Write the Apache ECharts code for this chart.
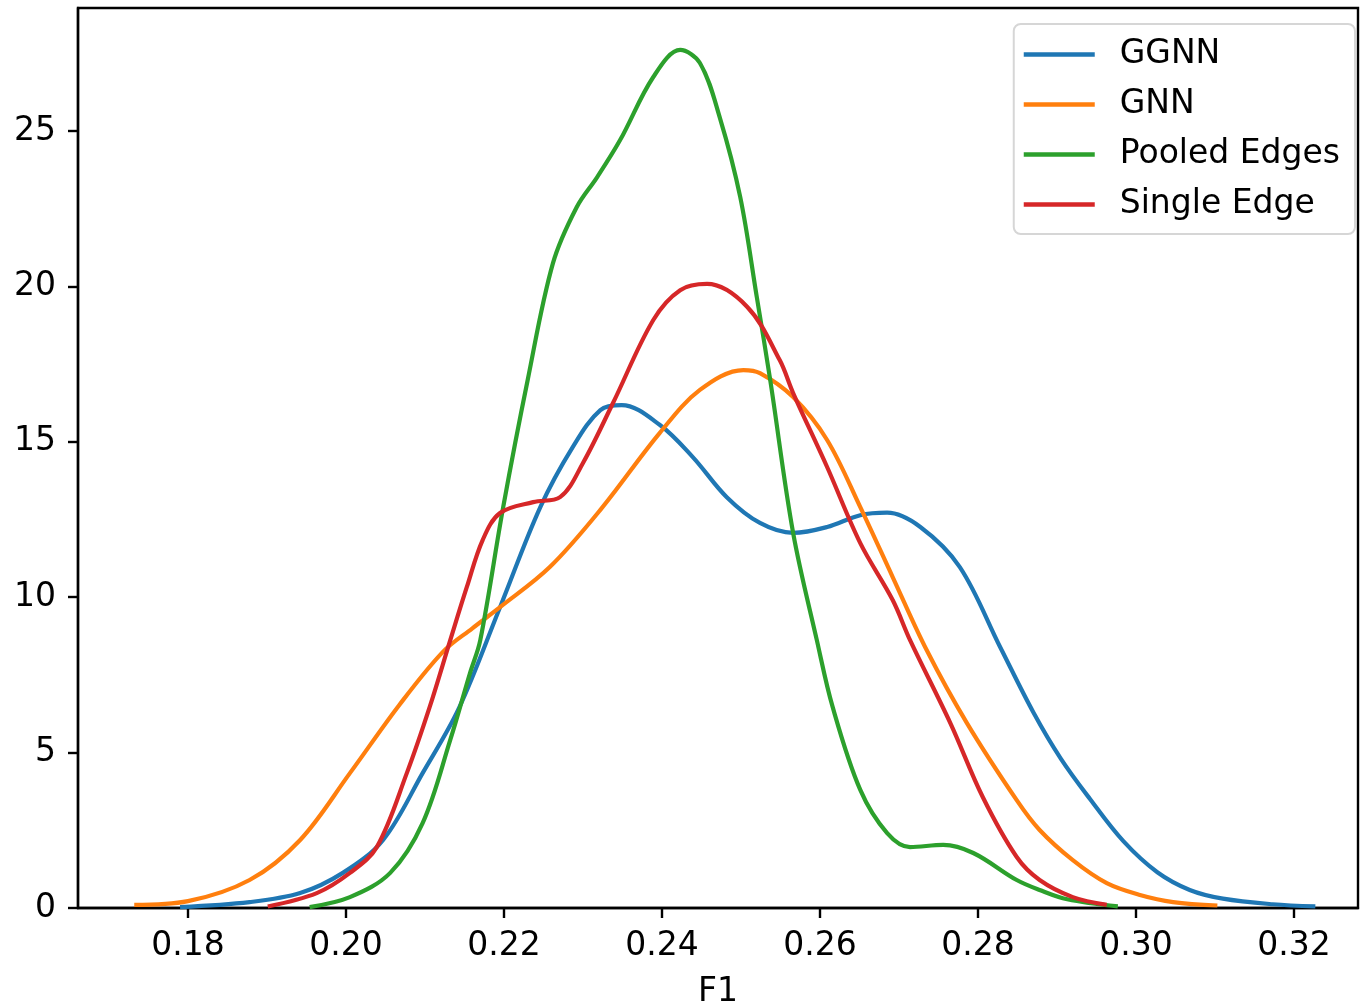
<!DOCTYPE html>
<html>
<head>
<meta charset="utf-8">
<script src="https://cdn.jsdelivr.net/npm/echarts@6/dist/echarts.min.js"></script>
<style>
  html, body { margin: 0; padding: 0; background: #fff; }
  #chart { width: 1360px; height: 1007px; }
</style>
</head>
<body>
<div id="chart"></div>
<script>
// KDE curves: [F1, density]
let ggnn = [
    [0.1790, 0.03], [0.1878, 0.19], [0.1942, 0.48], [0.1996, 1.13], [0.2047, 2.19],
    [0.2097, 4.34], [0.2143, 6.43], [0.2195, 9.68], [0.2246, 12.90], [0.2287, 14.83],
    [0.2322, 16.02], [0.2349, 16.18], [0.2397, 15.55], [0.2439, 14.51], [0.2482, 13.22],
    [0.2524, 12.39], [0.2566, 12.07], [0.2609, 12.26], [0.2651, 12.64], [0.2685, 12.72],
    [0.2727, 12.26], [0.2777, 10.97], [0.2828, 8.40], [0.2870, 6.30], [0.2905, 4.80],
    [0.2942, 3.50], [0.2984, 2.15], [0.3027, 1.15], [0.3068, 0.58], [0.3110, 0.30],
    [0.3173, 0.12], [0.3227, 0.05]
];
let gnn = [
    [0.1732, 0.10], [0.1800, 0.22], [0.1878, 0.90], [0.1942, 2.19], [0.2005, 4.34],
    [0.2068, 6.55], [0.2123, 8.25], [0.2160, 9.00], [0.2195, 9.68], [0.2258, 10.97],
    [0.2322, 12.81], [0.2397, 15.28], [0.2448, 16.67], [0.2503, 17.31], [0.2524, 17.21],
    [0.2566, 16.44], [0.2609, 15.06], [0.2651, 12.90], [0.2692, 10.65], [0.2735, 8.30],
    [0.2786, 5.95], [0.2849, 3.47], [0.2878, 2.51], [0.2920, 1.54], [0.2963, 0.80],
    [0.3005, 0.42], [0.3047, 0.19], [0.3103, 0.08]
];
let pooled = [
    [0.1954, 0.03], [0.2005, 0.35], [0.2056, 1.13], [0.2097, 2.73], [0.2132, 5.41],
    [0.2157, 7.56], [0.2170, 8.62], [0.2199, 12.90], [0.2230, 16.99], [0.2262, 20.75],
    [0.2292, 22.55], [0.2318, 23.52], [0.2347, 24.71], [0.2389, 26.74], [0.2423, 27.61],
    [0.2448, 27.19], [0.2473, 25.45], [0.2499, 22.88], [0.2520, 19.66], [0.2537, 16.99],
    [0.2566, 12.07], [0.2596, 8.62], [0.2616, 6.47], [0.2651, 3.80], [0.2685, 2.41],
    [0.2714, 1.96], [0.2756, 2.03], [0.2794, 1.77], [0.2849, 0.90], [0.2878, 0.58],
    [0.2913, 0.28], [0.2977, 0.05]
];
let single = [
    [0.1901, 0.05], [0.1963, 0.48], [0.2005, 1.13], [0.2039, 1.96], [0.2077, 4.34],
    [0.2106, 6.47], [0.2132, 8.62], [0.2153, 10.33], [0.2173, 11.84], [0.2195, 12.71],
    [0.2237, 13.06], [0.2271, 13.22], [0.2300, 14.32], [0.2338, 16.25], [0.2389, 18.92],
    [0.2423, 19.88], [0.2457, 20.08], [0.2508, 19.34], [0.2549, 17.63], [0.2566, 16.57],
    [0.2609, 14.19], [0.2651, 11.74], [0.2692, 9.91], [0.2714, 8.62], [0.2765, 5.95],
    [0.2806, 3.57], [0.2849, 1.64], [0.2878, 0.90], [0.2920, 0.35], [0.2963, 0.10]
];

let seriesNames = ['GGNN', 'GNN', 'Pooled Edges', 'Single Edge'];
let seriesColors = ['#1f77b4', '#ff7f0e', '#2ca02c', '#d62728'];
let xTicks = [0.18, 0.20, 0.22, 0.24, 0.26, 0.28, 0.30, 0.32];
let yTicks = [0, 5, 10, 15, 20, 25];

let font = 'DejaVu Sans';
let fontSize = 33;
let allData = [ggnn, gnn, pooled, single];

let series = [];
for(let i = 0; i < allData.length; i++){
    series.push({
        name: seriesNames[i],
        type: 'line',
        data: allData[i],
        smooth: 0.35,
        showSymbol: false,
        lineStyle: { color: seriesColors[i], width: 4.2 },
        itemStyle: { color: seriesColors[i] },
        z: 2 + i
    });
}

let chart = echarts.init(document.getElementById('chart'));
chart.setOption({
    animation: false,
    grid: {
        left: 78, right: 2, top: 8, bottom: 99,
        outerBoundsMode: 'none',
        show: true, borderColor: '#000', borderWidth: 2.4
    },
    legend: {
        orient: 'vertical',
        right: 5, top: 24,
        icon: 'rect',
        itemWidth: 71, itemHeight: 4.5,
        itemGap: 17,
        padding: [14, 15, 13, 10],
        backgroundColor: '#fff',
        borderColor: '#d6d6d6', borderWidth: 2, borderRadius: 7,
        textStyle: {
            fontFamily: font, fontSize: fontSize, color: '#000',
            lineHeight: 33, padding: [0, 0, 0, 20]
        },
        data: seriesNames
    },
    xAxis: {
        type: 'value',
        min: 0.16608, max: 0.3281,
        name: 'F1', nameLocation: 'middle', nameGap: 68,
        nameTextStyle: { fontFamily: font, fontSize: fontSize, color: '#000' },
        axisLine: { lineStyle: { color: '#000', width: 2.4 } },
        axisTick: { customValues: xTicks, length: 10, lineStyle: { color: '#000', width: 2.4 } },
        axisLabel: {
            customValues: xTicks, margin: 22,
            fontFamily: font, fontSize: fontSize, color: '#000',
            formatter: v => v.toFixed(2)
        },
        splitLine: { show: false }
    },
    yAxis: {
        type: 'value',
        min: 0, max: 28.96,
        axisLine: { show: true, lineStyle: { color: '#000', width: 2.4 } },
        axisTick: { show: true, customValues: yTicks, length: 10, lineStyle: { color: '#000', width: 2.4 } },
        axisLabel: {
            customValues: yTicks, margin: 22,
            fontFamily: font, fontSize: fontSize, color: '#000'
        },
        splitLine: { show: false }
    },
    series: series
});
</script>
</body>
</html>
